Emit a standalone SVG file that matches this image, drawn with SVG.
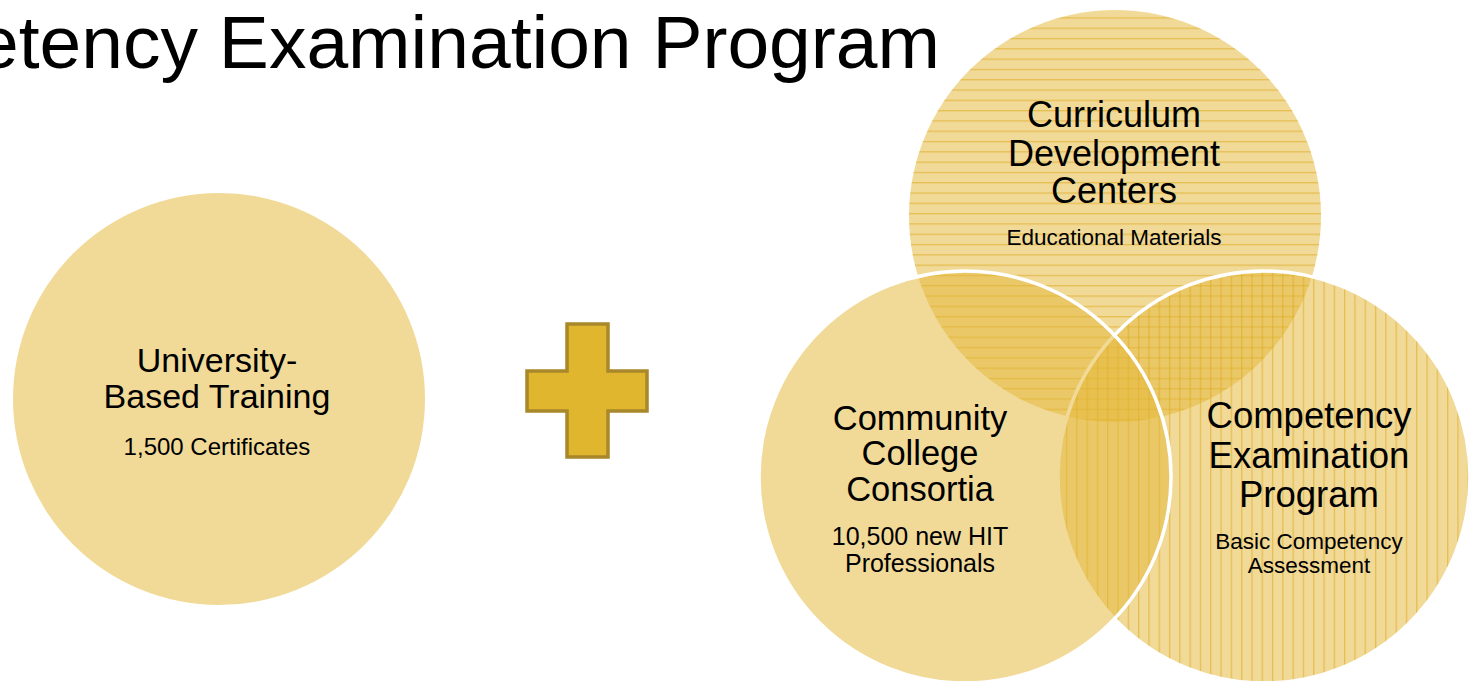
<svg xmlns="http://www.w3.org/2000/svg" width="1469" height="681" viewBox="0 0 1469 681">
  <style>
    text { font-family: "Liberation Sans", Arial, sans-serif; fill: #000; text-anchor: middle; }
    .base { fill: #E4B93A; fill-opacity: 0.52; }
    .ring { fill: none; stroke: #FFFFFF; stroke-width: 3.5; }
  </style>
  <defs>
    <pattern id="hlines" patternUnits="userSpaceOnUse" x="0" y="7" width="20" height="10.3">
      <rect x="0" y="0" width="20" height="1.3" fill="#DDAA22" fill-opacity="0.6"/>
    </pattern>
    <pattern id="vlines" patternUnits="userSpaceOnUse" x="5" y="0" width="10.3" height="20">
      <rect x="0" y="0" width="1.3" height="20" fill="#DDAA22" fill-opacity="0.6"/>
    </pattern>
  </defs>

  <text x="940" y="68" font-size="75" style="text-anchor:end">Competency Examination Program</text>

  <g id="university">
    <circle class="base" cx="219" cy="399" r="206"/>
    <text x="217" y="372" font-size="34">University-</text>
    <text x="217" y="408" font-size="34">Based Training</text>
    <text x="217" y="455" font-size="24">1,500 Certificates</text>
  </g>

  <g id="plus">
    <path d="M567,324 H608 V371 H647 V411 H608 V457 H567 V411 H527 V371 H567 Z" fill="#E0B62E" stroke="#A8882A" stroke-width="3.5"/>
  </g>

  <g id="curriculum">
    <circle class="base" cx="1115" cy="216" r="206"/>
    <circle cx="1115" cy="216" r="206" fill="url(#hlines)"/>
  </g>

  <g id="competency">
    <circle class="base" cx="1264" cy="477" r="206"/>
    <circle cx="1264" cy="477" r="206" fill="url(#vlines)"/>
    <circle class="ring" cx="1264" cy="477" r="206"/>
  </g>

  <g id="community">
    <circle class="base" cx="965" cy="477" r="206"/>
    <circle class="ring" cx="965" cy="477" r="206"/>
  </g>

  <g id="labels">
    <text x="1114" y="127" font-size="36">Curriculum</text>
    <text x="1114" y="166" font-size="36">Development</text>
    <text x="1114" y="203" font-size="36">Centers</text>
    <text x="1114" y="245" font-size="22.5">Educational Materials</text>

    <text x="920" y="430" font-size="34.5">Community</text>
    <text x="920" y="465" font-size="34.5">College</text>
    <text x="920" y="501" font-size="34.5">Consortia</text>
    <text x="920" y="545" font-size="25">10,500 new HIT</text>
    <text x="920" y="572" font-size="25">Professionals</text>

    <text x="1309" y="428" font-size="36.5">Competency</text>
    <text x="1309" y="468" font-size="36.5">Examination</text>
    <text x="1309" y="507" font-size="36.5">Program</text>
    <text x="1309" y="549" font-size="22.5">Basic Competency</text>
    <text x="1309" y="573" font-size="22.5">Assessment</text>
  </g>
</svg>
